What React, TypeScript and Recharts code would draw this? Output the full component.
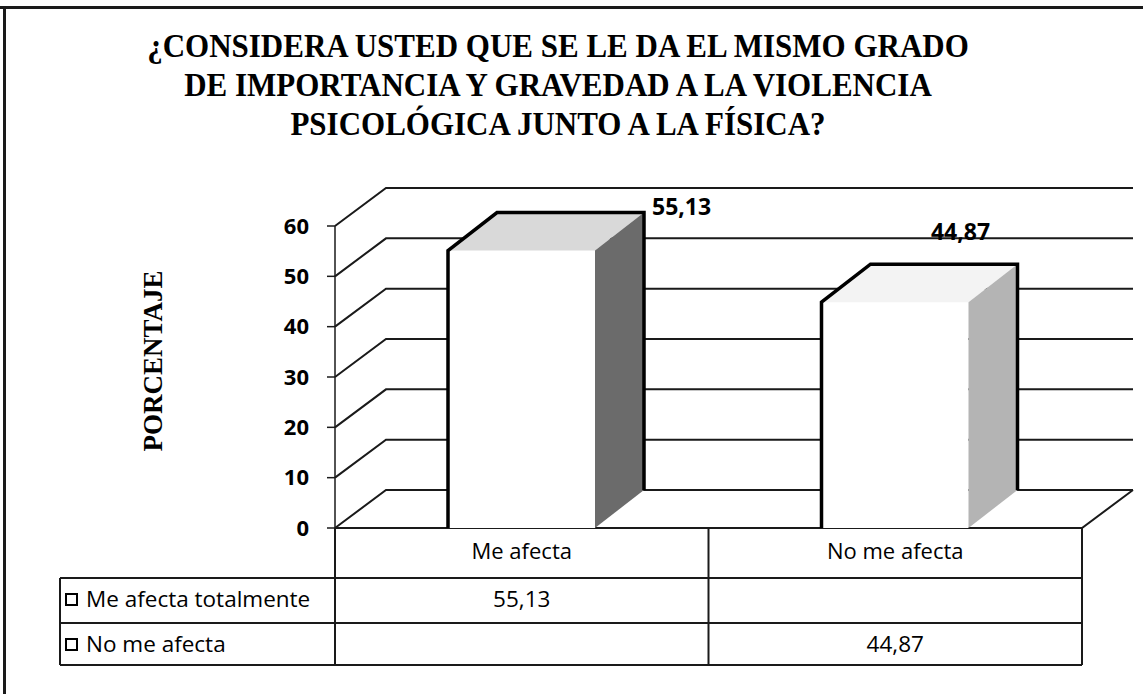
import { BarChart, Bar, XAxis, YAxis, CartesianGrid, LabelList } from "recharts";

const categories = ["Me afecta", "No me afecta"];
const seriesNames = ["Me afecta totalmente", "No me afecta"];
const meAfectaTotalmente: (number | null)[] = [55.13, null];
const noMeAfecta: (number | null)[] = [null, 44.87];
const yTicks = [0, 10, 20, 30, 40, 50, 60];
const titleLines = [
  "¿CONSIDERA USTED QUE SE LE DA EL MISMO GRADO",
  "DE IMPORTANCIA Y GRAVEDAD A LA VIOLENCIA",
  "PSICOLÓGICA JUNTO A LA FÍSICA?",
];
const yLabel = "PORCENTAJE";

const data = categories.map((name, i) => ({
  name,
  s1: meAfectaTotalmente[i],
  s2: noMeAfecta[i],
}));

const W = 1143;
const H = 694;
const PLOT_LEFT = 335;
const PLOT_RIGHT = 1082;
const PLOT_TOP = 226;
const PLOT_BOTTOM = 528;
// depth of the 3D walls and boxes
const DX = 51;
const DY = -38;
const BDX = 49;
const BDY = -38;

const INK = "#1a1a1a";
const SANS = "'Open Sans', 'DejaVu Sans', sans-serif";
const SERIF = "'Liberation Serif', 'DejaVu Serif', serif";

const fmt = (v: number) => v.toFixed(2).replace(".", ",");

function wallLine(p: any) {
  const { x1, y1, x2, y, height, index } = p;
  const isFloor = y != null && height != null && Math.abs(y1 - (y + height)) < 1;
  let d = `M${x1},${y1} L${x1 + DX},${y1 + DY} L${x2 + DX},${y1 + DY}`;
  if (isFloor) d += ` M${x1},${y1} L${x2},${y1} L${x2 + DX},${y1 + DY}`;
  return <path key={`wall-${index}`} d={d} fill="none" stroke={INK} strokeWidth={2} />;
}

function Box3D(props: any) {
  const { x, y, width: w, height: h, side, top } = props;
  if (!h || h < 1) return null;
  const b = y + h;
  return (
    <g>
      <rect x={x} y={y} width={w} height={h} fill="#fff" />
      <polygon
        points={`${x},${y} ${x + BDX},${y + BDY} ${x + w + BDX},${y + BDY} ${x + w},${y}`}
        fill={top}
      />
      <polygon
        points={`${x + w},${y} ${x + w + BDX},${y + BDY} ${x + w + BDX},${b + BDY} ${x + w},${b}`}
        fill={side}
      />
      <path
        d={`M${x},${b} L${x},${y} L${x + BDX},${y + BDY} L${x + w + BDX},${y + BDY} L${x + w + BDX},${b + BDY}`}
        fill="none"
        stroke="#000"
        strokeWidth={3.5}
        strokeLinejoin="miter"
      />
    </g>
  );
}

function CategoryTick(props: any) {
  const { x, y, payload } = props;
  return (
    <text x={x} y={y + 29} textAnchor="middle" fontFamily={SANS} fontSize={22} fill="#000">
      {payload.value}
    </text>
  );
}

function makeValueLabel(dx: number, dy: number, anchor: "start" | "middle") {
  return (p: any) => {
    const { x, y, width, value } = p;
    if (value == null) return null;
    return (
      <text
        x={x + width + BDX + dx}
        y={y + BDY + dy}
        textAnchor={anchor}
        fontFamily={SANS}
        fontWeight={700}
        fontSize={23}
        fill="#000"
      >
        {fmt(value)}
      </text>
    );
  };
}

function YTitle(p: any) {
  const vb = p.viewBox || {};
  const cx = vb.x + 18;
  const cy = vb.y + vb.height / 2 - 16;
  return (
    <text
      x={cx}
      y={cy}
      transform={`rotate(-90 ${cx} ${cy})`}
      textAnchor="middle"
      dominantBaseline="central"
      fontFamily={SERIF}
      fontWeight={700}
      fontSize={27}
      fill="#000"
    >
      {yLabel}
    </text>
  );
}

function LegendBox() {
  return (
    <span
      style={{
        display: "inline-block",
        width: 9,
        height: 9,
        border: "2.5px solid #000",
        background: "#fff",
        marginRight: 8,
        verticalAlign: "1px",
      }}
    />
  );
}

const cellText: React.CSSProperties = {
  position: "absolute",
  fontFamily: SANS,
  fontSize: 22.5,
  color: "#000",
  lineHeight: "45px",
  whiteSpace: "nowrap",
};

function DataTable() {
  const mid = (PLOT_LEFT + PLOT_RIGHT) / 2;
  const colW = (PLOT_RIGHT - PLOT_LEFT) / 2;
  const row1 = 578;
  const row2 = 623;
  const bottom = 665;
  const left = 60;
  const line = (x1: number, y1: number, x2: number, y2: number, k: string) => (
    <line key={k} x1={x1} y1={y1} x2={x2} y2={y2} stroke={INK} strokeWidth={2} />
  );
  const rows = [meAfectaTotalmente, noMeAfecta];
  return (
    <>
      <svg width={W} height={H} style={{ position: "absolute", left: 0, top: 0, pointerEvents: "none" }}>
        {line(PLOT_LEFT, PLOT_BOTTOM, PLOT_LEFT, bottom, "v0")}
        {line(mid, PLOT_BOTTOM, mid, bottom, "v1")}
        {line(PLOT_RIGHT, PLOT_BOTTOM, PLOT_RIGHT, bottom, "v2")}
        {line(left, row1, left, bottom, "v3")}
        {line(left, row1, PLOT_RIGHT, row1, "h1")}
        {line(left, row2, PLOT_RIGHT, row2, "h2")}
        {line(left, bottom, PLOT_RIGHT, bottom, "h3")}
      </svg>
      {seriesNames.map((name, r) => (
        <div key={name} style={{ ...cellText, left: left + 5, top: (r === 0 ? row1 : row2) - 2 }}>
          <LegendBox />
          {name}
        </div>
      ))}
      {rows.map((vals, r) =>
        vals.map((v, c) =>
          v == null ? null : (
            <div
              key={`${r}-${c}`}
              style={{
                ...cellText,
                left: PLOT_LEFT + c * colW,
                width: colW,
                textAlign: "center",
                top: (r === 0 ? row1 : row2) - 2,
              }}
            >
              {fmt(v)}
            </div>
          )
        )
      )}
    </>
  );
}

export default function App() {
  return (
    <div style={{ position: "relative", width: W, height: H, background: "#fff", overflow: "hidden" }}>
      <style>{"body{margin:0;background:#fff}"}</style>
      <div style={{ position: "absolute", left: 0, top: 6, width: W, height: 3, background: INK }} />
      <div style={{ position: "absolute", left: 3, top: 6, width: 3, height: H, background: INK }} />
      <div
        style={{
          position: "absolute",
          left: 0,
          top: 26,
          width: 1116,
          textAlign: "center",
          fontFamily: SERIF,
          fontWeight: 700,
          fontSize: 31,
          lineHeight: "39px",
          color: "#000",
        }}
      >
        {titleLines.map((t) => (
          <div key={t} style={{ transform: "scaleY(1.12)" }}>
            {t}
          </div>
        ))}
      </div>
      <div style={{ position: "absolute", left: 0, top: 0 }}>
        <BarChart
          width={W}
          height={H}
          data={data}
          barSize={147}
          margin={{ top: PLOT_TOP, right: W - PLOT_RIGHT, bottom: H - PLOT_BOTTOM - 50, left: PLOT_LEFT - 200 }}
        >
          <CartesianGrid vertical={false} horizontal={(p: any) => wallLine(p)} />
          <XAxis
            dataKey="name"
            height={50}
            axisLine={false}
            tickLine={false}
            tickSize={0}
            interval={0}
            tick={<CategoryTick />}
          />
          <YAxis
            width={200}
            domain={[0, 60]}
            ticks={yTicks}
            interval={0}
            axisLine={{ stroke: INK, strokeWidth: 1.5 }}
            tickLine={{ stroke: INK, strokeWidth: 1.5 }}
            tickSize={8}
            tickMargin={18}
            tick={{ fontFamily: SANS, fontWeight: 700, fontSize: 22, fill: "#000" }}
            label={{ content: (p: any) => <YTitle {...p} /> }}
          />
          <Bar
            dataKey="s1"
            name={seriesNames[0]}
            stackId="a"
            isAnimationActive={false}
            shape={(p: any) => <Box3D {...p} side="#6b6b6b" top="#d9d9d9" />}
          >
            <LabelList dataKey="s1" content={makeValueLabel(8, 2, "start")} />
          </Bar>
          <Bar
            dataKey="s2"
            name={seriesNames[1]}
            stackId="a"
            isAnimationActive={false}
            shape={(p: any) => <Box3D {...p} side="#b4b4b4" top="#f3f3f3" />}
          >
            <LabelList dataKey="s2" content={makeValueLabel(-57, -24, "middle")} />
          </Bar>
        </BarChart>
      </div>
      <DataTable />
    </div>
  );
}
